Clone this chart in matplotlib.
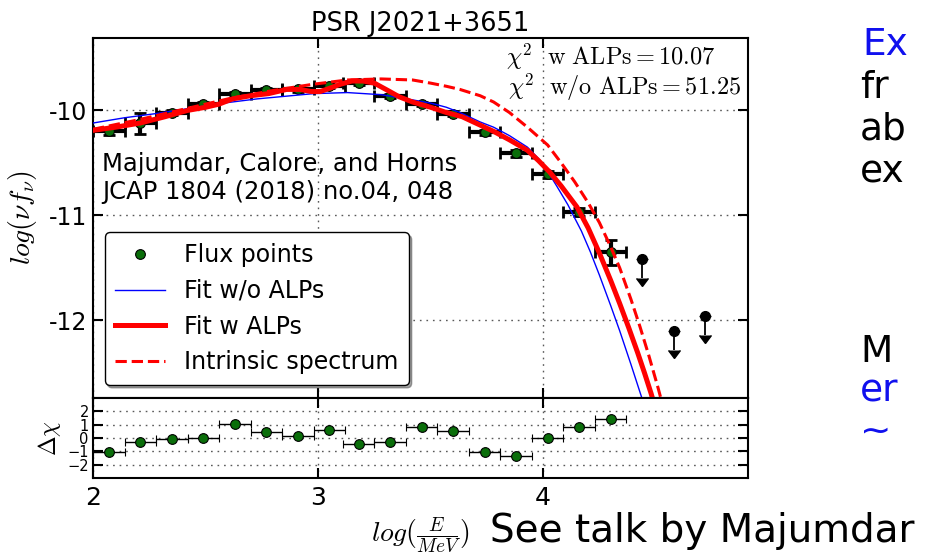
import matplotlib
matplotlib.use("Agg")
import matplotlib.pyplot as plt

plt.rcParams['mathtext.fontset'] = 'cm'

# flux points, log10(E/MeV) and log10(nu F_nu)
log_e = [2.07, 2.21, 2.35, 2.49, 2.63, 2.77, 2.91, 3.05, 3.18, 3.32, 3.46, 3.60,
         3.74, 3.88, 4.02, 4.16, 4.30]
log_flux = [-10.20, -10.12, -10.02, -9.94, -9.84, -9.81, -9.80, -9.77, -9.74, -9.86,
            -9.94, -10.03, -10.21, -10.41, -10.61, -10.97, -11.35]
flux_err = [0.03, 0.10, 0.02, 0.02, 0.02, 0.02, 0.02, 0.02, 0.02, 0.02, 0.02, 0.02,
            0.02, 0.03, 0.03, 0.04, 0.12]
bin_half = 0.07

# upper limits
ul_e = [4.44, 4.58, 4.72]
ul_flux = [-11.42, -12.10, -11.96]

# residuals (delta chi)
resid = [-1.02, -0.31, -0.05, -0.02, 1.07, 0.43, 0.14, 0.60, -0.48, -0.31, 0.81, 0.50,
         -1.02, -1.36, 0.00, 0.86, 1.43]

# fit without ALPs
blue_x = [2.00, 2.14, 2.28, 2.43, 2.58, 2.73, 2.83, 2.98, 3.13, 3.28, 3.42, 3.50, 3.57,
          3.63, 3.72, 3.78, 3.85, 3.93, 3.98, 4.02, 4.06, 4.11, 4.17, 4.21, 4.25, 4.30,
          4.34, 4.39, 4.44, 4.46]
blue_y = [-10.12, -10.07, -10.03, -9.98, -9.93, -9.89, -9.87, -9.84, -9.83, -9.85, -9.90,
          -9.93, -9.97, -10.02, -10.11, -10.16, -10.24, -10.35, -10.46, -10.58, -10.72,
          -10.90, -11.15, -11.35, -11.57, -11.86, -12.10, -12.42, -12.75, -12.90]

# fit with ALPs
red_x = [2.00, 2.10, 2.21, 2.32, 2.42, 2.50, 2.56, 2.62, 2.70, 2.78, 2.86, 2.92, 2.97,
         3.01, 3.05, 3.10, 3.15, 3.20, 3.25, 3.31, 3.36, 3.42, 3.50, 3.57, 3.64, 3.72,
         3.78, 3.85, 3.93, 3.98, 4.03, 4.08, 4.15, 4.20, 4.25, 4.30, 4.34, 4.38, 4.42,
         4.45, 4.48, 4.50]
red_y = [-10.19, -10.16, -10.12, -10.06, -10.00, -9.97, -9.94, -9.89, -9.86, -9.84, -9.80,
         -9.80, -9.82, -9.82, -9.79, -9.75, -9.72, -9.72, -9.74, -9.81, -9.87, -9.92,
         -9.97, -10.02, -10.06, -10.14, -10.20, -10.28, -10.38, -10.48, -10.59, -10.72,
         -10.92, -11.12, -11.36, -11.62, -11.84, -12.07, -12.31, -12.50, -12.70, -12.85]

# intrinsic spectrum
dash_x = [2.00, 2.20, 2.40, 2.60, 2.80, 2.98, 3.13, 3.28, 3.42, 3.50, 3.57, 3.63, 3.72,
          3.78, 3.85, 3.93, 4.02, 4.08, 4.14, 4.20, 4.25, 4.30, 4.34, 4.39, 4.43, 4.47,
          4.51, 4.53]
dash_y = [-10.18, -10.09, -9.99, -9.89, -9.81, -9.75, -9.71, -9.70, -9.71, -9.74, -9.77,
          -9.80, -9.86, -9.92, -10.02, -10.16, -10.33, -10.50, -10.68, -10.88, -11.07,
          -11.30, -11.50, -11.80, -12.06, -12.34, -12.64, -12.80]

W, H = 926, 556
fig = plt.figure(figsize=(W / 100, H / 100), dpi=100)
fig.patch.set_facecolor('white')

ax = fig.add_axes([93 / W, 1 - 398 / H, 655 / W, 360 / H])
ax2 = fig.add_axes([93 / W, 1 - 478 / H, 655 / W, 80 / H])

grid_kw = dict(color='0.35', linestyle=(0, (1.2, 3.5)), linewidth=1.0)

# ---- main panel ----
ax.errorbar(log_e, log_flux, xerr=bin_half, yerr=flux_err, fmt='none', ecolor='k',
            elinewidth=3, capsize=4, capthick=2, zorder=2)
ax.plot(log_e, log_flux, 'o', color='#0a6e0a', mec='k', mew=0.8, ms=7,
        label='Flux points', zorder=3)
ax.errorbar(ul_e, ul_flux, yerr=0.18, uplims=True, fmt='o', color='k', ms=7,
            elinewidth=1.3, capsize=4, zorder=3)
ax.plot(blue_x, blue_y, color='blue', lw=1.0, label='Fit w/o ALPs', zorder=4)
ax.plot(red_x, red_y, color='red', lw=3.6, label='Fit w ALPs', zorder=5)
ax.plot(dash_x, dash_y, color='red', lw=2.2, ls='--', label='Intrinsic spectrum', zorder=4)

ax.set_xlim(2, 4.91)
ax.set_ylim(-12.74, -9.31)
ax.set_xticks([2, 3, 4])
ax.set_yticks([-10, -11, -12])
ax.set_yticklabels(['-10', '-11', '-12'])
ax.tick_params(direction='in', length=7, width=1.5, top=True, right=True,
               labelbottom=False, labelsize=17, pad=4)
ax.grid(True, **grid_kw)
for s in ax.spines.values():
    s.set_linewidth(1.5)

ax.set_title('PSR J2021+3651', fontsize=18.5, pad=5)
ax.set_ylabel(r'$log(\nu f_{\nu})$', fontsize=20)
ax.yaxis.label.set_va('center')
ax.yaxis.set_label_coords(-0.107, 0.5)

ax.text(0.63, 0.947, r'$\chi^2\ \ \mathrm{w\ ALPs} = 10.07$', transform=ax.transAxes,
        fontsize=17.5, va='center', ha='left')
ax.text(0.634, 0.864, r'$\chi^2\ \ \mathrm{w/o\ ALPs} = 51.25$', transform=ax.transAxes,
        fontsize=17.5, va='center', ha='left')

ax.text(0.014, 0.611, 'Majumdar, Calore, and Horns\nJCAP 1804 (2018) no.04, 048',
        transform=ax.transAxes, fontsize=17.5, va='center', ha='left', linespacing=1.25)

leg = ax.legend(loc='lower left', bbox_to_anchor=(0.018, 0.036), borderaxespad=0,
                fontsize=17, numpoints=1, fancybox=True, shadow=True, framealpha=1,
                edgecolor='k', borderpad=0.45, labelspacing=0.5, handlelength=2.1,
                handletextpad=0.8)
leg.get_frame().set_linewidth(1.0)

# ---- residual panel ----
ax2.errorbar(log_e, resid, xerr=bin_half, fmt='o', color='#0a6e0a', mec='k', mew=0.8,
             ms=7, ecolor='k', elinewidth=1, capsize=3, capthick=1)
ax2.set_xlim(2, 4.91)
ax2.set_ylim(-3, 3)
ax2.set_xticks([2, 3, 4])
ax2.set_yticks([-2, -1, 0, 1, 2])
ax2.tick_params(direction='in', length=7, width=1.5, top=True, right=True)
ax2.tick_params(axis='x', labelsize=18, pad=6)
ax2.tick_params(axis='y', labelsize=10.5, pad=3)
ax2.grid(True, **grid_kw)
for s in ax2.spines.values():
    s.set_linewidth(1.5)
ax2.set_ylabel(r'$\Delta\chi$', fontsize=17)
ax2.yaxis.label.set_va('center')
ax2.yaxis.set_label_coords(-0.067, 0.5)
ax2.set_xlabel(r'$log(\frac{E}{MeV})$', fontsize=20)
ax2.xaxis.set_label_coords(0.5, -0.71)
ax2.xaxis.label.set_va('center')

# ---- slide text around the chart ----
blue = '#1010ee'
fig.text(862 / W, 1 - 45 / H, 'Ex', color=blue, fontsize=27, va='center')
fig.text(860 / W, 1 - 88 / H, 'fr', color='k', fontsize=27, va='center')
fig.text(860 / W, 1 - 130 / H, 'ab', color='k', fontsize=27, va='center')
fig.text(860 / W, 1 - 172 / H, 'ex', color='k', fontsize=27, va='center')
fig.text(860 / W, 1 - 352 / H, 'M', color='k', fontsize=27, va='center')
fig.text(860 / W, 1 - 392 / H, 'er', color=blue, fontsize=27, va='center')
fig.text(860 / W, 1 - 432 / H, '~', color=blue, fontsize=27, va='center')
fig.text(490 / W, 1 - 531 / H, 'See talk by Majumdar', color='k', fontsize=28,
         va='center')

fig.savefig('out.png', dpi=100)
